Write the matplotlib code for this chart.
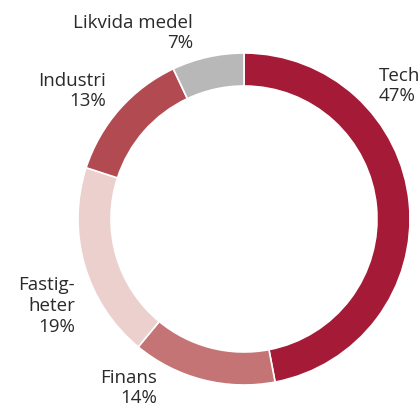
import matplotlib.pyplot as plt

labels = ["Tech", "Finans", "Fastig-\nheter", "Industri", "Likvida medel"]
shares = [47, 14, 19, 13, 7]
colors = ["#a51a37", "#c47474", "#ecd0ce", "#b24a52", "#b8b8b8"]

# label anchor (x, y in pixels from top-left) and alignment
label_pos = [(379, 86), (157, 388), (75, 306), (106, 91), (193, 33)]
label_ha = ["left", "right", "right", "right", "right"]

W, H = 419, 405
fig = plt.figure(figsize=(W / 100, H / 100), dpi=100)
ax = fig.add_axes([0, 0, 1, 1])

ax.pie(
    shares,
    colors=colors,
    startangle=90,
    counterclock=False,
    center=(244, H - 219),
    radius=166,
    wedgeprops=dict(width=33, edgecolor="white", linewidth=1.2),
    frame=True,
)
ax.set_xlim(0, W)
ax.set_ylim(0, H)
ax.set_aspect("equal")
ax.axis("off")

for lab, val, (x, y), ha in zip(labels, shares, label_pos, label_ha):
    ax.text(x, H - y, f"{lab}\n{val}%", ha=ha, va="center", fontsize=13.5,
            family="Open Sans", color="#2a2a2a", linespacing=1.2, multialignment=ha)

fig.savefig("out.png", dpi=100)
